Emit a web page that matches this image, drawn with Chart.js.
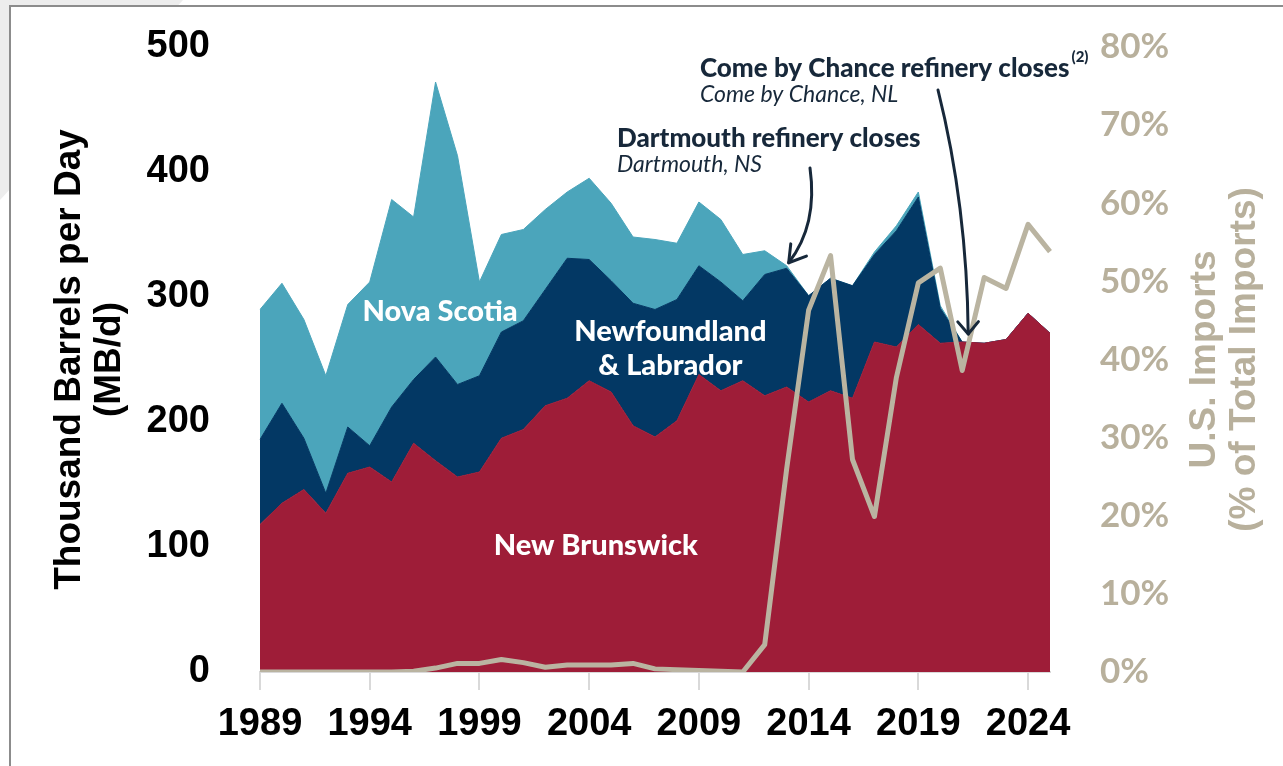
<!DOCTYPE html>
<html>
<head>
<meta charset="utf-8">
<script src="https://cdn.jsdelivr.net/npm/chart.js@4.4.1/dist/chart.umd.min.js"></script>
<style>
  html, body { margin: 0; padding: 0; background: #ffffff; }
  canvas { display: block; }
</style>
</head>
<body>
<canvas id="refineryChart" width="1283" height="766"></canvas>
<script>
document.addEventListener('DOMContentLoaded', function () {

    // categories
    const years = ['1989', '1990', '1991', '1992', '1993', '1994', '1995', '1996', '1997', '1998',
        '1999', '2000', '2001', '2002', '2003', '2004', '2005', '2006', '2007', '2008',
        '2009', '2010', '2011', '2012', '2013', '2014', '2015', '2016', '2017', '2018',
        '2019', '2020', '2021', '2022', '2023', '2024', '2025'];

    // MB/d by province (stacked)
    const newBrunswick = [118, 135, 146, 127, 159, 164, 152, 183, 169, 156,
        160, 187, 194, 213, 219, 233, 224, 197, 188, 201,
        238, 225, 233, 221, 228, 216, 225, 219, 264, 260,
        278, 263, 264, 263, 266, 287, 271];
    const newfoundland = [68, 80, 41, 16, 37, 17, 60, 51, 83, 74,
        77, 85, 87, 93, 112, 97, 89, 98, 102, 97,
        87, 87, 64, 97, 95, 85, 90, 90, 70, 93,
        102, 28, 0, 0, 0, 0, 0];
    const novaScotia = [104, 96, 95, 94, 98, 131, 166, 130, 220, 183,
        75, 78, 73, 64, 53, 65, 62, 53, 56, 45,
        51, 50, 37, 19, 2, 0, 0, 0, 2, 4,
        4, 2, 0, 0, 0, 0, 0];

    // U.S. share of total imports, %
    const usImports = [0, 0, 0, 0, 0, 0, 0, 0.1, 0.5, 1.1,
        1.1, 1.6, 1.2, 0.6, 0.9, 0.9, 0.9, 1.1, 0.4, 0.3,
        0.2, 0.1, 0, 3.5, 26, 46.3, 53.3, 27.2, 19.9, 37.7,
        49.8, 51.7, 38.6, 50.5, 49.1, 57.3, 53.8];

    // tick labels
    const leftTicks = [0, 100, 200, 300, 400, 500];
    const rightTicks = [0, 10, 20, 30, 40, 50, 60, 70, 80];

    const navyText = '#17283A';
    const tan = '#B8B09C';

    // slide frame + titles + callouts
    const decorPlugin = {
        id: 'decor',
        beforeDraw(chart) {
            const ctx = chart.ctx;
            ctx.save();
            ctx.fillStyle = '#ffffff';
            ctx.fillRect(0, 0, chart.width, chart.height);
            ctx.fillStyle = '#EDEDED';
            ctx.beginPath();
            ctx.moveTo(0, 0);
            ctx.lineTo(183, 0);
            ctx.lineTo(0, 200);
            ctx.closePath();
            ctx.fill();
            ctx.fillStyle = '#ffffff';
            ctx.fillRect(10, 6, chart.width - 10, chart.height - 6);
            ctx.strokeStyle = '#8C8C8C';
            ctx.lineWidth = 2;
            ctx.beginPath();
            ctx.moveTo(10, chart.height);
            ctx.lineTo(10, 6);
            ctx.lineTo(chart.width, 6);
            ctx.stroke();
            ctx.restore();
        },
        afterDraw(chart) {
            const ctx = chart.ctx;
            const xs = chart.scales.x;
            const ys = chart.scales.y;
            const area = chart.chartArea;
            const midY = (area.top + area.bottom) / 2;
            const px = i => xs.getPixelForValue(i);
            const py = v => ys.getPixelForValue(v);

            ctx.save();
            ctx.textAlign = 'center';
            ctx.textBaseline = 'middle';

            // axis titles
            ctx.fillStyle = '#000000';
            ctx.font = 'bold 37px "Liberation Sans", Arial, sans-serif';
            ctx.save(); ctx.translate(70, midY); ctx.rotate(-Math.PI / 2);
            ctx.fillText('Thousand Barrels per Day', 0, 0); ctx.restore();
            ctx.save(); ctx.translate(110, midY); ctx.rotate(-Math.PI / 2);
            ctx.fillText('(MB/d)', 0, 0); ctx.restore();

            ctx.fillStyle = tan;
            ctx.save(); ctx.translate(1205, midY); ctx.rotate(-Math.PI / 2);
            ctx.fillText('U.S. Imports', 0, 0); ctx.restore();
            ctx.save(); ctx.translate(1245, midY); ctx.rotate(-Math.PI / 2);
            ctx.fillText('(% of Total Imports)', 0, 0); ctx.restore();

            // area labels
            ctx.fillStyle = '#ffffff';
            ctx.font = '900 29px Lato, sans-serif';
            ctx.fillText('Nova Scotia', px(8.2), py(288));
            ctx.fillText('Newfoundland', px(18.7), py(272));
            ctx.fillText('& Labrador', px(18.7), py(245));
            ctx.fillText('New Brunswick', px(15.3), py(101));

            // callout text
            ctx.textAlign = 'left';
            ctx.textBaseline = 'alphabetic';
            ctx.fillStyle = navyText;
            ctx.font = '900 26px Lato, sans-serif';
            const cbc = 'Come by Chance refinery closes';
            ctx.fillText(cbc, 700, 77);
            const w = ctx.measureText(cbc).width;
            ctx.font = '900 15px Lato, sans-serif';
            ctx.fillText('(2)', 700 + w + 2, 62);
            ctx.font = '900 26px Lato, sans-serif';
            ctx.fillText('Dartmouth refinery closes', 617, 147);
            ctx.font = 'italic 23px Lato, sans-serif';
            ctx.fillText('Come by Chance, NL', 700, 102);
            ctx.fillText('Dartmouth, NS', 617, 172);

            // arrows
            const arrow = (sx, sy, cx, cy, tx, ty, spread, len) => {
                ctx.beginPath();
                ctx.moveTo(sx, sy);
                ctx.quadraticCurveTo(cx, cy, tx, ty);
                ctx.stroke();
                const back = Math.atan2(cy - ty, cx - tx);
                ctx.beginPath();
                ctx.moveTo(tx + len * Math.cos(back + spread), ty + len * Math.sin(back + spread));
                ctx.lineTo(tx, ty);
                ctx.lineTo(tx + len * Math.cos(back - spread), ty + len * Math.sin(back - spread));
                ctx.stroke();
            };
            ctx.strokeStyle = navyText;
            ctx.lineWidth = 3;
            ctx.lineCap = 'round';
            ctx.lineJoin = 'round';

            const t13x = px(24) + 2;
            const t13y = py(newBrunswick[24] + newfoundland[24] + novaScotia[24]) - 3;
            arrow(810, 168, 818, 225, t13x, t13y, 0.55, 19);

            const t21x = px(32) + 6;
            const t21y = py(newBrunswick[32]) - 8;
            arrow(938, 90, 967, 206, t21x, t21y, 0.7, 16);

            ctx.restore();
        }
    };

    const areaDefaults = {
        fill: '-1',
        pointRadius: 0,
        borderWidth: 1,
        tension: 0,
        order: 1
    };

    // invisible tick marks push the y labels away from the plot
    const hiddenTicks = {
        display: true,
        drawOnChartArea: false,
        drawTicks: true,
        tickLength: 50,
        color: 'rgba(0,0,0,0)'
    };

    const config = {
        type: 'line',
        data: {
            labels: years,
            datasets: [
                {
                    label: 'U.S. Imports',
                    data: usImports,
                    yAxisID: 'y1',
                    borderColor: '#BAB4A1',
                    borderWidth: 5,
                    pointRadius: 0,
                    fill: false,
                    tension: 0,
                    borderJoinStyle: 'round',
                    order: 0
                },
                Object.assign({}, areaDefaults, {
                    label: 'New Brunswick',
                    data: newBrunswick,
                    backgroundColor: '#9E1D38',
                    borderColor: '#9E1D38',
                    fill: 'origin'
                }),
                Object.assign({}, areaDefaults, {
                    label: 'Newfoundland & Labrador',
                    data: newfoundland,
                    backgroundColor: '#033864',
                    borderColor: '#033864'
                }),
                Object.assign({}, areaDefaults, {
                    label: 'Nova Scotia',
                    data: novaScotia,
                    backgroundColor: '#4BA5BB',
                    borderColor: '#4BA5BB'
                })
            ]
        },
        options: {
            responsive: false,
            animation: false,
            devicePixelRatio: 1,
            layout: { padding: { top: 47, left: 0, right: 0, bottom: 0 } },
            plugins: {
                legend: { display: false },
                tooltip: { enabled: false }
            },
            scales: {
                x: {
                    type: 'category',
                    offset: false,
                    afterFit: s => { s.height = 94; },
                    grid: {
                        drawOnChartArea: false,
                        drawTicks: true,
                        tickLength: 18,
                        lineWidth: 2,
                        color: c => (c.index % 5 === 0 ? '#D9D9D9' : 'rgba(0,0,0,0)')
                    },
                    border: { display: true, color: '#D9D9D9', width: 2 },
                    ticks: {
                        autoSkip: false,
                        maxRotation: 0,
                        padding: 12,
                        color: '#000000',
                        font: { family: '"Liberation Sans", Arial, sans-serif', size: 38, weight: 'bold' },
                        callback: (v, i) => (i % 5 === 0 ? years[i] : '')
                    }
                },
                y: {
                    position: 'left',
                    stacked: true,
                    min: leftTicks[0],
                    max: leftTicks[leftTicks.length - 1],
                    afterFit: s => { s.width = 260; },
                    afterBuildTicks: s => { s.ticks = leftTicks.map(v => ({ value: v })); },
                    grid: hiddenTicks,
                    border: { display: false },
                    ticks: {
                        padding: 0,
                        color: '#000000',
                        font: { family: '"Liberation Sans", Arial, sans-serif', size: 38, weight: 'bold' }
                    }
                },
                y1: {
                    position: 'right',
                    stacked: false,
                    min: rightTicks[0],
                    max: rightTicks[rightTicks.length - 1],
                    afterFit: s => { s.width = 233; },
                    afterBuildTicks: s => { s.ticks = rightTicks.map(v => ({ value: v })); },
                    grid: hiddenTicks,
                    border: { display: false },
                    ticks: {
                        padding: 0,
                        color: tan,
                        font: { family: 'Lato, sans-serif', size: 35, weight: 'bold' },
                        callback: v => v + '%'
                    }
                }
            }
        },
        plugins: [decorPlugin]
    };

    const ctx = document.getElementById('refineryChart');
    if (ctx) new Chart(ctx, config);

});
</script>
</body>
</html>
